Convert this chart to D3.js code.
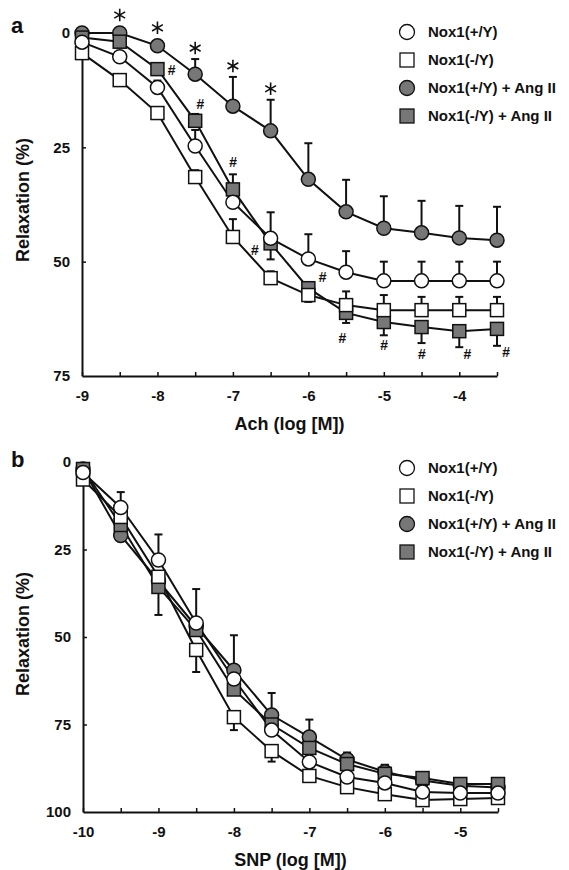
<!DOCTYPE html>
<html lang="en">
<head>
  <meta charset="UTF-8">
  <script src="https://d3js.org/d3.v7.min.js"></script>
  <title>Nox1 relaxation</title>
  <style>
    body { margin: 0; background: #fff; }
    svg text { font-family: "Liberation Sans", Arial, sans-serif; font-weight: bold; fill: #111; }
  </style>
</head>
<body>
  <svg id="chart" width="569" height="870"></svg>
  <script>
    // 범례 / 계열 이름
    const seriesNames = ["Nox1(+/Y)", "Nox1(-/Y)", "Nox1(+/Y) + Ang II", "Nox1(-/Y) + Ang II"];

    // panel a - Ach
    const achDose = [-9, -8.5, -8, -7.5, -7, -6.5, -6, -5.5, -5, -4.5, -4, -3.5];
    const achWt     = [2, 5.2, 11.9, 24.7, 37, 44.9, 49.4, 52.3, 54.2, 54.2, 54.2, 54.2];
    const achKo     = [4.4, 10.3, 17.5, 31.5, 44.6, 53.6, 57.3, 59.5, 60.6, 60.6, 60.6, 60.6];
    const achWtAng  = [0, 0, 2.8, 9, 16, 21.4, 32, 39.1, 42.7, 43.7, 44.8, 45.3];
    const achKoAng  = [1, 1.9, 7.9, 19.2, 34.2, 46, 55.8, 61.2, 63.2, 64.3, 65.2, 64.7];
    // SEM, 양수 = 위쪽으로, 음수 = 아래쪽으로 그림
    const achWtErr    = [0, 1, 1.5, 3.5, 3, 5.7, 5.4, 4.6, 4.2, 4.2, 4.2, 4.2];
    const achKoErr    = [0, 0, 1, 1.5, 3.9, 1.5, 2, 3, 3.3, 2.9, 2.9, 2.9];
    const achWtAngErr = [0, 0, 0, 3.3, 6.4, 6.8, 7.9, 7, 7, 7, 7, 7.3];
    const achKoAngErr = [0, 0, 1, 1.5, 3.3, -3.5, -3, -2.2, -2.9, -3.5, -3.5, -3.7];
    const achStar = [-8.5, -8, -7.5, -7, -6.5];   // * 표시 (filled circle 위)
    const achHash = [-8, -7.5, -7, -6.5, -6, -5.5, -5, -4.5, -4, -3.5];
    const achYTicks = [0, 25, 50, 75];
    const achXTicks = [-9, -8, -7, -6, -5, -4];

    // panel b - SNP
    const snpDose = [-10, -9.5, -9, -8.5, -8, -7.5, -7, -6.5, -6, -5.5, -5, -4.5];
    const snpWt     = [3, 13, 28, 46, 62, 76.6, 85.7, 90, 91.7, 94.3, 94.6, 94.6];
    const snpKo     = [5, 15.7, 32.8, 53.7, 72.9, 82.6, 89.7, 92.9, 94.9, 96.6, 96.3, 96];
    const snpWtAng  = [2, 21, 34, 47, 59.5, 72.3, 78.6, 85, 88.5, 91, 92.5, 93];
    const snpKoAng  = [2, 18, 35.7, 48, 65, 75, 81.7, 86.3, 89.1, 90.3, 92, 92];
    const snpWtErr    = [0, 4.4, 7.3, 9.7, 3, 2, 2, 1.5, 1.5, 1, 1, 1];
    const snpKoErr    = [0, -1.5, -2, -6.3, -3.7, -3, -1.5, -1, -1, -1, -1, -1];
    const snpWtAngErr = [0, 1, 1, 1, 10, 6.3, 5, 2, 2, 1, 1, 1];
    const snpKoAngErr = [1, 1, -8, 1, 2, 2, 2, 2.5, 2.5, 1, 1, 1];
    const snpYTicks = [0, 25, 50, 75, 100];
    const snpXTicks = [-10, -9, -8, -7, -6, -5];

    const svg = d3.select("#chart");
    const grey = "#777";

    function drawPanel(p) {
      const g = svg.append("g");
      const x = d3.scaleLinear().domain(p.xDomain).range(p.xRange);
      const y = d3.scaleLinear().domain(p.yDomain).range(p.yRange);

      // 눈금 - 0.5 간격, 안쪽으로
      const minor = d3.range(p.xDomain[0], p.xDomain[1] + 0.01, 0.5);
      const xAxis = d3.axisBottom(x).tickValues(minor).tickSizeInner(-4).tickSizeOuter(0).tickPadding(14)
        .tickFormat(d => p.xTicks.includes(d) ? String(d) : "");
      const xg = g.append("g").attr("transform", `translate(0,${p.yRange[1]})`).call(xAxis);

      const yAxis = d3.axisLeft(y).tickValues(p.yTicks).tickSizeInner(-4).tickSizeOuter(0).tickPadding(12)
        .tickFormat(d => String(d));
      const yg = g.append("g").attr("transform", `translate(${p.xRange[0]},0)`).call(yAxis);

      [xg, yg].forEach(a => {
        a.select(".domain").attr("stroke", "#111").attr("stroke-width", 2);
        a.selectAll(".tick line").attr("stroke", "#111").attr("stroke-width", 1.5);
        a.selectAll("text").style("font-size", "15px");
      });
      yg.selectAll(".tick line").filter(d => d === p.yDomain[0] || d === p.yDomain[1]).remove();

      // 축 제목
      g.append("text").attr("x", (p.xRange[0] + p.xRange[1]) / 2).attr("y", p.xTitleY)
        .attr("text-anchor", "middle").style("font-size", "18px").text(p.xTitle);
      g.append("text").attr("transform", `translate(29,${p.yTitleY}) rotate(-90)`)
        .attr("text-anchor", "middle").style("font-size", "18px").text("Relaxation (%)");
      g.append("text").attr("x", 11).attr("y", p.letterY).style("font-size", "22px").text(p.letter);

      const line = d3.line().x(d => x(d.x)).y(d => y(d.v));

      // filled 계열을 먼저 그림 (open 기호가 위에 보이도록)
      const order = [2, 3, 1, 0];
      const rows = p.series.map((s, k) => p.dose.map((d, i) => ({ x: d, v: s.values[i], e: s.err[i], k })));

      order.forEach(k => {
        g.append("path").datum(rows[k]).attr("d", line)
          .attr("fill", "none").attr("stroke", "#111").attr("stroke-width", 2);
      });

      order.forEach(k => {
        const eb = g.append("g").selectAll("g").data(rows[k].filter(d => d.e !== 0)).enter().append("g");
        eb.append("line")
          .attr("x1", d => x(d.x)).attr("x2", d => x(d.x))
          .attr("y1", d => y(d.v)).attr("y2", d => y(d.v - d.e))
          .attr("stroke", "#111").attr("stroke-width", 2);
        eb.append("line")
          .attr("x1", d => x(d.x) - 4).attr("x2", d => x(d.x) + 4)
          .attr("y1", d => y(d.v - d.e)).attr("y2", d => y(d.v - d.e))
          .attr("stroke", "#111").attr("stroke-width", 2);
      });

      order.forEach(k => {
        const s = p.series[k];
        const m = g.append("g").selectAll(".m").data(rows[k]).enter();
        if (s.shape === "circle") {
          m.append("circle").attr("cx", d => x(d.x)).attr("cy", d => y(d.v)).attr("r", 7)
            .attr("fill", s.fill).attr("stroke", "#111").attr("stroke-width", 1.5);
        } else {
          m.append("rect").attr("x", d => x(d.x) - 6.5).attr("y", d => y(d.v) - 6.5)
            .attr("width", 13).attr("height", 13)
            .attr("fill", s.fill).attr("stroke", "#111").attr("stroke-width", 1.5);
        }
      });

      // * 와 # 표시
      const wtAng = p.series[2], koAng = p.series[3];
      const star = d3.symbol().type(d3.symbolAsterisk).size(110);
      (p.stars || []).forEach(d => {
        const i = p.dose.indexOf(d);
        const top = Math.min(y(wtAng.values[i]) - 7, y(wtAng.values[i] - Math.max(wtAng.err[i], 0)));
        g.append("path").attr("d", star).attr("transform", `translate(${x(d)},${top - 11})`)
          .attr("fill", "none").attr("stroke", "#111").attr("stroke-width", 1.6);
      });
      (p.hashes || []).forEach(h => {
        const i = p.dose.indexOf(h.d);
        g.append("text").attr("x", x(h.d) + h.dx).attr("y", y(koAng.values[i]) + h.dy)
          .attr("text-anchor", "middle").style("font-size", "14px").style("font-style", "italic").text("#");
      });

      // 범례
      const lg = g.append("g");
      p.series.forEach((s, k) => {
        const ly = p.legendY + k * 28;
        if (s.shape === "circle") {
          lg.append("circle").attr("cx", 407).attr("cy", ly).attr("r", 7.5)
            .attr("fill", s.fill).attr("stroke", "#111").attr("stroke-width", 1.3);
        } else {
          lg.append("rect").attr("x", 400).attr("y", ly - 7).attr("width", 14).attr("height", 14)
            .attr("fill", s.fill).attr("stroke", "#111").attr("stroke-width", 1.3);
        }
        lg.append("text").attr("x", 428).attr("y", ly + 5).style("font-size", "15px").text(seriesNames[k]);
      });
    }

    const shapes = [
      { shape: "circle", fill: "#fff" },
      { shape: "square", fill: "#fff" },
      { shape: "circle", fill: grey },
      { shape: "square", fill: grey }
    ];

    drawPanel({
      letter: "a", letterY: 33,
      dose: achDose,
      series: [
        { ...shapes[0], values: achWt, err: achWtErr },
        { ...shapes[1], values: achKo, err: achKoErr },
        { ...shapes[2], values: achWtAng, err: achWtAngErr },
        { ...shapes[3], values: achKoAng, err: achKoAngErr }
      ],
      xDomain: [-9, -3.5], xRange: [82, 497],
      yDomain: [0, 75], yRange: [33, 376],
      xTicks: achXTicks, yTicks: achYTicks,
      xTitle: "Ach (log [M])", xTitleY: 430, yTitleY: 200,
      legendY: 32,
      stars: achStar,
      hashes: achHash.map((d, i) => ({
        d,
        dx: [14, 5, 0, -16, 14, -4, 0, 0, 8, 9][i],
        dy: [6, -12, -22, 12, -6, 30, 28, 32, 28, 28][i]
      }))
    });

    drawPanel({
      letter: "b", letterY: 467,
      dose: snpDose,
      series: [
        { ...shapes[0], values: snpWt, err: snpWtErr },
        { ...shapes[1], values: snpKo, err: snpKoErr },
        { ...shapes[2], values: snpWtAng, err: snpWtAngErr },
        { ...shapes[3], values: snpKoAng, err: snpKoAngErr }
      ],
      xDomain: [-10, -4.5], xRange: [83, 498],
      yDomain: [0, 100], yRange: [462, 812],
      xTicks: snpXTicks, yTicks: snpYTicks,
      xTitle: "SNP (log [M])", xTitleY: 866, yTitleY: 634,
      legendY: 468
    });
  </script>
</body>
</html>
